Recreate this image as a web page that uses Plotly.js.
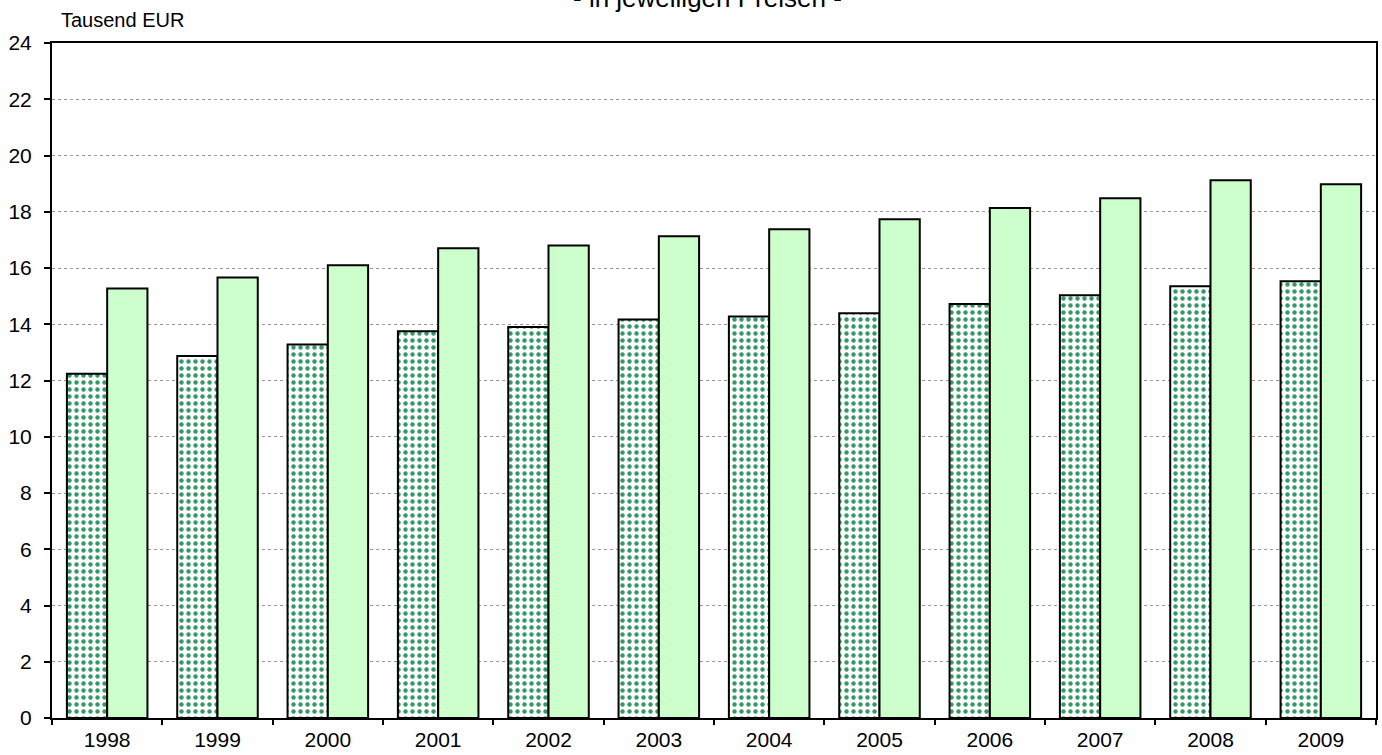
<!DOCTYPE html>
<html><head><meta charset="utf-8">
<script src="https://cdn.plot.ly/plotly-3.0.1.min.js"></script>
<style>html,body{margin:0;padding:0;background:#fff}#chart{width:1382px;height:755px}</style>
</head><body><div id="chart"></div>
<script>
const years = ['1998','1999','2000','2001','2002','2003','2004','2005','2006','2007','2008','2009'];
const seriesDotted = [12.24, 12.87, 13.28, 13.75, 13.9, 14.17, 14.28, 14.39, 14.72, 15.03, 15.35, 15.53];
const seriesGreen = [15.27, 15.66, 16.1, 16.7, 16.8, 17.13, 17.38, 17.73, 18.13, 18.48, 19.12, 18.98];
const yTicks = [0,2,4,6,8,10,12,14,16,18,20,22,24];
const titleText = '- in jeweiligen Preisen -';
const unitText = 'Tausend EUR';

const traces = [
  {type:'bar', x:years, y:seriesDotted, name:'A',
   marker:{color:'#ffffff', line:{color:'#000', width:2},
     pattern:{shape:'.', fgcolor:'#339966', bgcolor:'#ffffff', size:7, solidity:0.32}}},
  {type:'bar', x:years, y:seriesGreen, name:'B',
   marker:{color:'#ccffcc', line:{color:'#000', width:2}}}
];
const fam = '"Liberation Sans", Arial, sans-serif';
const font = {family:fam, size:21, color:'#000'};
const layout = {
  width:1382, height:755,
  margin:{l:52, r:6, t:43, b:37},
  paper_bgcolor:'#fff', plot_bgcolor:'#fff',
  showlegend:false, barmode:'group', bargap:0.27, bargroupgap:0,
  font:font,
  xaxis:{type:'category', showline:true, linecolor:'#000', linewidth:2, mirror:true,
    ticks:'outside', tickson:'boundaries', ticklen:5, tickcolor:'#000', tickwidth:2,
    showgrid:false, tickfont:font, ticklabelstandoff:2},
  yaxis:{range:[0,24], tickvals:yTicks, showline:true, linecolor:'#000', linewidth:2, mirror:true,
    ticks:'outside', ticklen:6, tickcolor:'#000', tickwidth:2, ticklabelstandoff:8,
    showgrid:true, gridcolor:'#999999', griddash:'dot', gridwidth:1, zeroline:false, tickfont:font},
  annotations:[
    {text:unitText, xref:'paper', yref:'paper', x:0, xshift:7, y:1, yshift:10, xanchor:'left', yanchor:'bottom',
     showarrow:false, font:{family:fam, size:20, color:'#000'}},
    {text:titleText, xref:'paper', yref:'paper', x:0.495, y:1, yshift:28, xanchor:'center', yanchor:'bottom',
     showarrow:false, font:{family:fam, size:26, color:'#000'}}
  ]
};
Plotly.newPlot('chart', traces, layout, {displayModeBar:false, staticPlot:true});
</script></body></html>
